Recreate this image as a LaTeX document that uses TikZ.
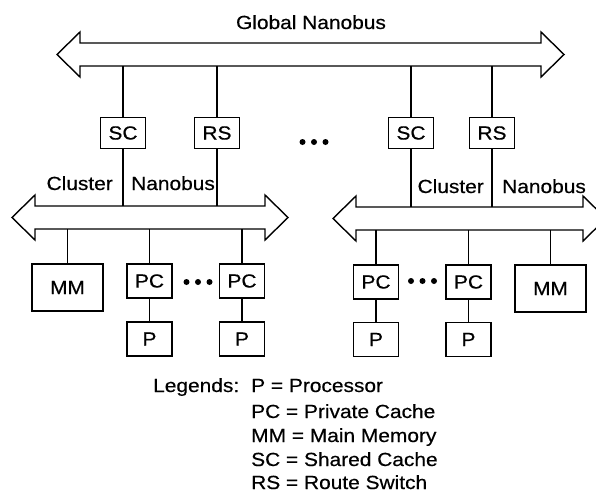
\documentclass[tikz,border=0pt]{standalone}
\usepackage{fontspec}
\setmainfont[FakeStretch=1.1,FakeBold=0.5]{Liberation Sans}

% hollow double-headed bus arrow: left tip x, right tip x, centre y
\newcommand\drawbus[3]{%
  \draw[bus] (#1,#3) -- ({#1+23},{#3-22.5}) -- ({#1+23},{#3-11.5})
    -- ({#2-23},{#3-11.5}) -- ({#2-23},{#3-22.5}) -- (#2,#3)
    -- ({#2-23},{#3+22.5}) -- ({#2-23},{#3+11.5})
    -- ({#1+23},{#3+11.5}) -- ({#1+23},{#3+22.5}) -- cycle;}

% row of three ellipsis dots starting at a named coordinate
\newcommand\ellipsisdots[1]{%
  \foreach \dx in {0,11.5,23} \fill ([xshift=\dx pt]#1) circle (3pt);}

\begin{document}
\begin{tikzpicture}[x=1pt,y=-1pt,
  every node/.style={font=\fontsize{19}{23}\selectfont, inner sep=0pt},
  bus/.style={draw=black, line width=1.4pt, line join=miter, fill=white},
  unit/.style={draw, line width=1.3pt, minimum width=45pt, minimum height=31pt},
  cache/.style={unit, minimum height=34pt},
  memory/.style={unit, minimum width=71pt, minimum height=47pt},
  wire/.style={line width=1.3pt},
  label/.style={anchor=base}]
\useasboundingbox (0,0) rectangle (596,499);

% buses
\drawbus{57}{564}{54.5}
\drawbus{12}{288}{217.5}
\drawbus{333}{606}{218.5}
\coordinate (gbot) at (0,66);
\coordinate (lctop) at (0,206);
\coordinate (lcbot) at (0,229);
\coordinate (rctop) at (0,207);
\coordinate (rcbot) at (0,230);

\node[label] (gname) at (311,29) {Global Nanobus};

% cluster interfaces
\node[unit] (sc1) at (123,133) {SC};
\node[unit] (rs1) at (217,133) {RS};
\node[unit] (sc2) at (411,133) {SC};
\node[unit] (rs2) at (492,133) {RS};

\foreach \n in {sc1,rs1,sc2,rs2} \draw[wire] (\n.north) -- (\n.north |- gbot);
\draw[wire] (sc1.south) -- (sc1.south |- lctop);
\draw[wire] (rs1.south) -- (rs1.south |- lctop);
\draw[wire] (sc2.south) -- (sc2.south |- rctop);
\draw[wire] (rs2.south) -- (rs2.south |- rctop);

\node[anchor=base east] (lcl) at (113,190) {Cluster};
\node[anchor=base west] (lnb) at (131,190) {Nanobus};
\node[anchor=base east] (rcl) at (484,193) {Cluster};
\node[anchor=base west] (rnb) at (502,193) {Nanobus};

% left cluster
\node[memory] (mm1) at (67.5,287.5) {MM};
\node[cache] (pc1) at (149.5,281) {PC};
\node[cache] (pc2) at (242,281) {PC};
\node[cache] (p1) at (149.5,339) {P};
\node[cache] (p2) at (242,339) {P};
\foreach \n in {mm1,pc1,pc2} \draw[wire] (\n.north) -- (\n.north |- lcbot);
\draw[wire] (pc1) -- (p1);
\draw[wire] (pc2) -- (p2);

% right cluster
\node[cache] (pc3) at (376,282) {PC};
\node[cache] (pc4) at (468.5,282) {PC};
\node[cache] (p3) at (376,339.5) {P};
\node[cache] (p4) at (468.5,339.5) {P};
\node[memory] (mm2) at (550.5,288.5) {MM};
\foreach \n in {mm2,pc3,pc4} \draw[wire] (\n.north) -- (\n.north |- rcbot);
\draw[wire] (pc3) -- (p3);
\draw[wire] (pc4) -- (p4);

% ellipses
\coordinate (gdots) at (302.5,142);
\coordinate (ldots) at (186.5,282);
\coordinate (rdots) at (411,281);
\ellipsisdots{gdots}
\ellipsisdots{ldots}
\ellipsisdots{rdots}

% legend
\node[anchor=base west] (leg) at (153,392) {Legends:};
\node[anchor=base west] (l1) at (251,392) {P = Processor};
\node[anchor=base west] (l2) at (251,418) {PC = Private Cache};
\node[anchor=base west] (l3) at (251,442) {MM = Main Memory};
\node[anchor=base west] (l4) at (251,466) {SC = Shared Cache};
\node[anchor=base west] (l5) at (251,489) {RS = Route Switch};
\end{tikzpicture}
\end{document}
